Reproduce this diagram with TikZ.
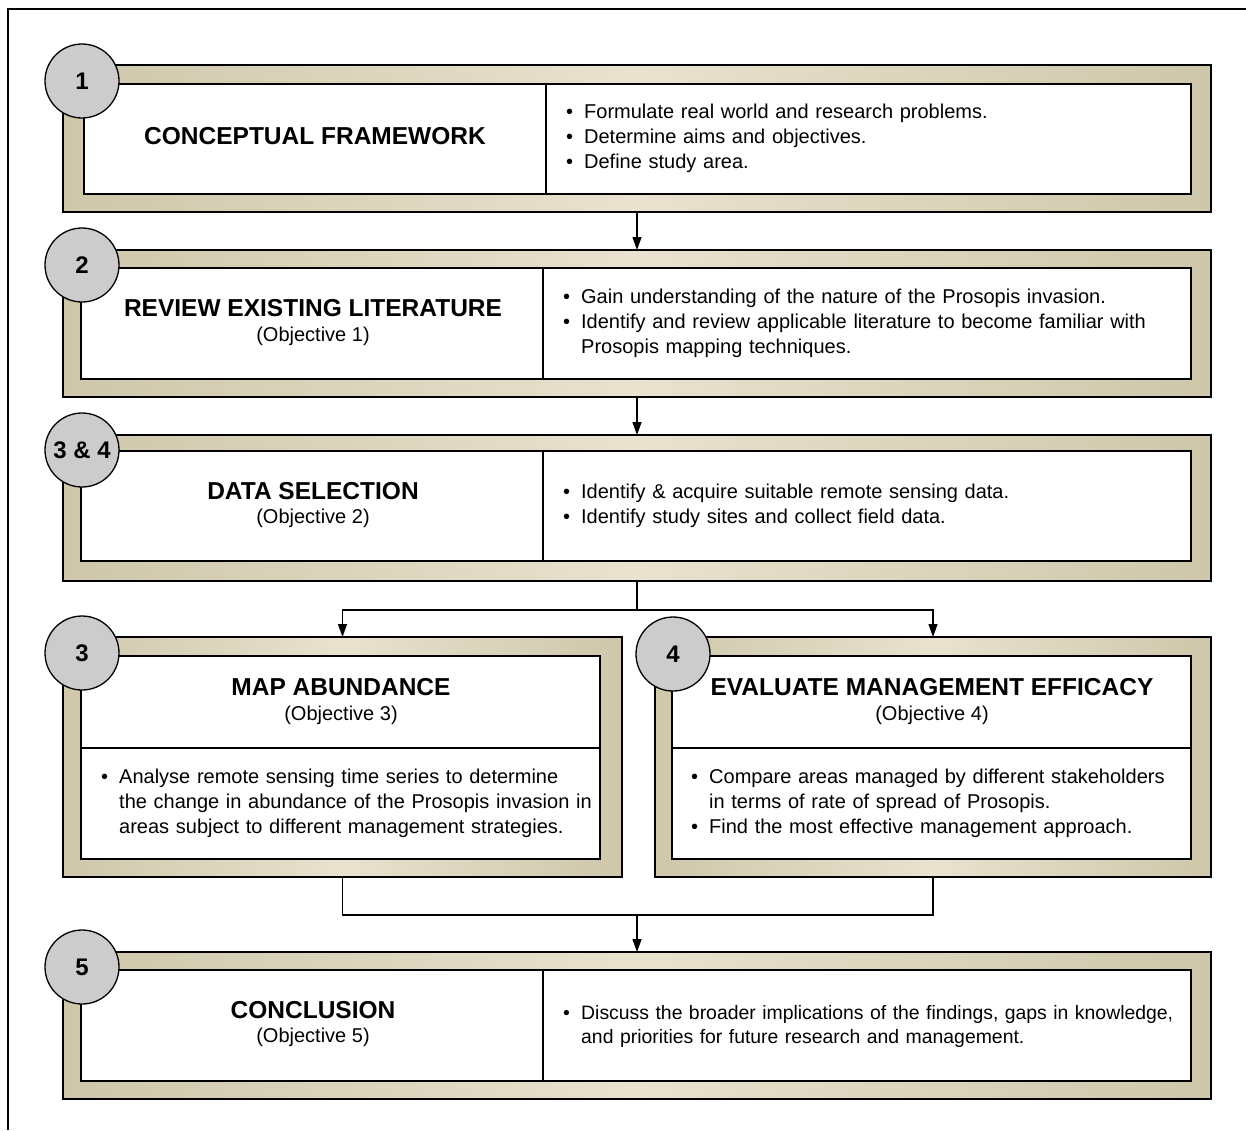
\documentclass[tikz,border=0pt]{standalone}
\usepackage{fontspec}
\setmainfont{Liberation Sans}
\usetikzlibrary{arrows.meta}
\definecolor{tanedge}{RGB}{206,199,170}
\definecolor{tanmid}{RGB}{232,226,207}
\definecolor{circfill}{RGB}{204,204,204}
\newcommand{\bit}[1]{\par\hangindent=18pt\hangafter=1\noindent\makebox[18pt][l]{•}#1\par}
\newcommand{\nl}{\hfil\break}
\begin{document}
\begin{tikzpicture}[x=1pt,y=-1pt,
  frame/.style={draw=black,line width=1.8pt,left color=tanedge,right color=tanedge,middle color=tanmid,minimum width=#1,inner sep=0pt,outer sep=0pt},
  innerbox/.style={draw=black,line width=1.8pt,fill=white,inner sep=0pt,outer sep=0pt},
  numcirc/.style={circle,draw=black,line width=1.3pt,fill=circfill,minimum size=74pt,inner sep=0pt,font=\fontsize{24}{26}\selectfont\bfseries},
  title/.style={font=\fontsize{24.5}{28}\selectfont\bfseries,align=center,inner sep=0pt},
  sub/.style={font=\fontsize{20}{24}\selectfont,align=center,inner sep=0pt},
  bul/.style={font=\fontsize{20}{25}\selectfont,text width=#1,align=left,inner sep=0pt,anchor=west},
  link/.style={draw=black,line width=1.3pt},
  arr/.style={link,-{Triangle[length=13pt,width=9pt]}}]
\useasboundingbox (0,0) rectangle (1246,1130);
\draw[line width=2pt] (8,1130) -- (8,9) -- (1246,9);

% Box 1
\node[frame=1148pt,minimum height=147pt] (f1) at (637,138.5) {};
\node[innerbox,minimum width=1107pt,minimum height=110pt] (b1) at (637.5,139) {};
\draw[line width=1.5pt] (546,84) -- (546,194);
\node[title] (t1) at (315,136) {CONCEPTUAL FRAMEWORK};
\node[bul=620pt] (r1) at (566,133) {\bit{Formulate real world and research problems.}\bit{Determine aims and objectives.}\bit{Define study area.}};
\node[numcirc] (c1) at (82,81) {1};

% Box 2
\node[frame=1148pt,minimum height=147pt] (f2) at (637,323.5) {};
\node[innerbox,minimum width=1110pt,minimum height=111pt] (b2) at (636,323.5) {};
\draw[line width=1.5pt] (543,268) -- (543,379);
\node[title] (t2) at (313,308) {REVIEW EXISTING LITERATURE};
\node[sub] (s2) at (313,336) {(Objective 1)};
\node[bul=620pt] (r2) at (563,318) {\bit{Gain understanding of the nature of the Prosopis invasion.}\bit{Identify and review applicable literature to become familiar with\nl Prosopis mapping techniques.}};
\node[numcirc] (c2) at (82,265) {2};

% Box 3 & 4
\node[frame=1148pt,minimum height=146pt] (f34) at (637,508) {};
\node[innerbox,minimum width=1110pt,minimum height=110pt] (b34) at (636,506) {};
\draw[line width=1.5pt] (543,451) -- (543,561);
\node[title] (t34) at (313,491) {DATA SELECTION};
\node[sub] (s34) at (313,518) {(Objective 2)};
\node[bul=620pt] (r34) at (563,500.5) {\bit{Identify \& acquire suitable remote sensing data.}\bit{Identify study sites and collect field data.}};
\node[numcirc] (c34) at (82,450) {3 \& 4};

% Box 3
\node[frame=559pt,minimum height=240pt] (f3) at (342.5,757) {};
\node[innerbox,minimum width=519pt,minimum height=203pt] (b3) at (340.5,757.5) {};
\draw[line width=1.5pt] (81,748) -- (600,748);
\node[title] (t3) at (341,687) {MAP ABUNDANCE};
\node[sub] (s3) at (341,715) {(Objective 3)};
\node[bul=500pt] (r3) at (101,798) {\bit{Analyse remote sensing time series to determine\nl the change in abundance of the Prosopis invasion in\nl areas subject to different management strategies.}};
\node[numcirc] (c3) at (82,653) {3};

% Box 4
\node[frame=556pt,minimum height=240pt] (f4) at (933,757) {};
\node[innerbox,minimum width=519pt,minimum height=203pt] (b4) at (931.5,757.5) {};
\draw[line width=1.5pt] (672,748) -- (1191,748);
\node[title] (t4) at (932,687) {EVALUATE MANAGEMENT EFFICACY};
\node[sub] (s4) at (932,715) {(Objective 4)};
\node[bul=500pt] (r4) at (691,798) {\bit{Compare areas managed by different stakeholders\nl in terms of rate of spread of Prosopis.}\bit{Find the most effective management approach.}};
\node[numcirc] (c4) at (673,654) {4};

% Box 5
\node[frame=1148pt,minimum height=147pt] (f5) at (637,1025.5) {};
\node[innerbox,minimum width=1110pt,minimum height=111pt] (b5) at (636,1025.5) {};
\draw[line width=1.5pt] (543,970) -- (543,1081);
\node[title] (t5) at (313,1010) {CONCLUSION};
\node[sub] (s5) at (313,1037) {(Objective 5)};
\node[bul=640pt,font=\fontsize{19.4}{24}\selectfont] (r5) at (563,1021) {\bit{Discuss the broader implications of the findings, gaps in knowledge,\nl and priorities for future research and management.}};
\node[numcirc] (c5) at (82,967) {5};

% Connectors
\draw[arr] (f1.south) -- (f2.north);
\draw[arr] (f2.south) -- (f34.north);
\coordinate (split) at (637,610);
\draw[link] (f34.south) -- (split);
\draw[arr] (split) -| (f3.north);
\draw[arr] (split) -| (f4.north);
\coordinate (join) at (637,915);
\draw[link] (f3.south) |- (join) -| (f4.south);
\draw[arr] (join) -- (f5.north);
\end{tikzpicture}
\end{document}
